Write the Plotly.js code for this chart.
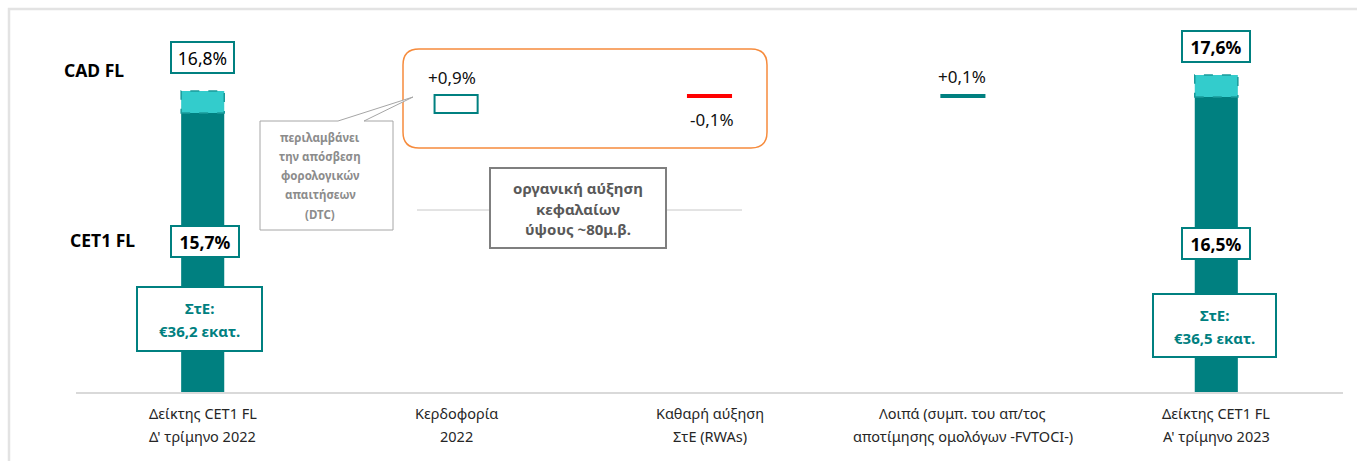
<!DOCTYPE html>
<html>
<head>
<meta charset="utf-8">
<script src="https://cdn.plot.ly/plotly-3.0.1.min.js"></script>
<style>html,body{margin:0;padding:0;background:#fff;}#chart{width:1357px;height:461px;}</style>
</head>
<body>
<div id="chart"></div>
<script>
// ---- data ----
const catLine1 = ["Δείκτης CET1 FL", "Κερδοφορία", "Καθαρή αύξηση", "Λοιπά (συμπ. του απ/τος", "Δείκτης CET1 FL"];
const catLine2 = ["Δ' τρίμηνο 2022", "2022", "ΣτΕ (RWAs)", "αποτίμησης ομολόγων -FVTOCI-)", "Α' τρίμηνο 2023"];
const cet1 = [15.7, null, null, null, 16.5];
const cad = [16.8, null, null, null, 17.6];
const changes = [null, 0.9, -0.1, 0.1, null];
const cet1Labels = ["15,7%", null, null, null, "16,5%"];
const cadLabels = ["16,8%", null, null, null, "17,6%"];
const changeLabels = [null, "+0,9%", "-0,1%", "+0,1%", null];
const rwaLine1 = ["ΣτΕ:", null, null, null, "ΣτΕ:"];
const rwaLine2 = ["€36,2 εκατ.", null, null, null, "€36,5 εκατ."];
const calloutText = ["περιλαμβάνει", "την απόσβεση", "φορολογικών", "απαιτήσεων", "(DTC)"];
const organicText = ["οργανική αύξηση", "κεφαλαίων", "ύψους ~80μ.β."];
const rowLabels = ["CAD FL", "CET1 FL"];

// ---- layout helpers ----
const W = 1357, H = 461;
const M = {l: 76, r: 14, t: 20, b: 69};
const PW = W - M.l - M.r, PH = H - M.t - M.b;
const px = x => (x - M.l) / PW;
const py = y => (H - M.b - y) / PH;
const pt = (x, y) => px(x) + ',' + py(y);

const TEAL = '#008080', LTEAL = '#33cccc', FONT = 'Noto Sans, Open Sans, sans-serif';
const BW = 0.17;
const idx = [0, 1, 2, 3, 4];

// waterfall bases
const base = [];
let run = cet1[0];
changes.forEach((c, i) => {
  if (c === null) { base.push(null); return; }
  base.push(run); run += c;
});

const traces = [];
traces.push({type: 'bar', x: idx, y: cet1, width: BW, marker: {color: TEAL, line: {width: 0}}, hoverinfo: 'skip'});
traces.push({type: 'bar', x: idx, y: cad.map((v, i) => v === null ? null : v - cet1[i]),
  base: cet1, width: BW, marker: {color: LTEAL, line: {width: 0}}, hoverinfo: 'skip'});
const stepFill = ['#fff', '#ffffff', '#ff0000', '#8fd0d0', '#fff'];
const stepLine = ['#fff', TEAL, '#ff0000', TEAL, '#fff'];
traces.push({type: 'bar', x: idx, y: changes, base: base, width: BW,
  marker: {color: stepFill, line: {color: stepLine, width: 2}}, hoverinfo: 'skip'});

const shapes = [];
shapes.push({type: 'rect', xref: 'paper', yref: 'paper', x0: px(9), x1: px(1375), y0: py(9), y1: py(480),
  line: {color: '#e3e3e3', width: 2.5}, fillcolor: 'rgba(0,0,0,0)', layer: 'below'});
idx.forEach(i => {
  if (cad[i] === null) return;
  shapes.push({type: 'rect', xref: 'x', yref: 'y', x0: i - BW / 2, x1: i + BW / 2, y0: cet1[i], y1: cad[i],
    line: {color: '#1a9a9a', width: 1.5, dash: 'dash'}, fillcolor: 'rgba(0,0,0,0)'});
});
(function () {
  const x0 = 403, x1 = 767, y0 = 49, y1 = 148, r = 16;
  const path = 'M' + pt(x0 + r, y0) + ' L' + pt(x1 - r, y0) + ' Q' + pt(x1, y0) + ' ' + pt(x1, y0 + r) +
    ' L' + pt(x1, y1 - r) + ' Q' + pt(x1, y1) + ' ' + pt(x1 - r, y1) +
    ' L' + pt(x0 + r, y1) + ' Q' + pt(x0, y1) + ' ' + pt(x0, y1 - r) +
    ' L' + pt(x0, y0 + r) + ' Q' + pt(x0, y0) + ' ' + pt(x0 + r, y0) + ' Z';
  shapes.push({type: 'path', xref: 'paper', yref: 'paper', path: path, line: {color: '#f68b3c', width: 1.5}});
})();
shapes.push({type: 'path', xref: 'paper', yref: 'paper',
  path: 'M' + pt(260, 121) + ' L' + pt(338, 121) + ' L' + pt(413, 97) + ' L' + pt(364, 121) + ' L' + pt(393, 121) +
    ' L' + pt(393, 230) + ' L' + pt(260, 230) + ' Z',
  line: {color: '#a6a6a6', width: 1}, fillcolor: '#ffffff'});
shapes.push({type: 'line', xref: 'paper', yref: 'paper', x0: px(417), x1: px(489), y0: py(210), y1: py(210), line: {color: '#c8c8c8', width: 1}});
shapes.push({type: 'line', xref: 'paper', yref: 'paper', x0: px(667), x1: px(742), y0: py(210), y1: py(210), line: {color: '#c8c8c8', width: 1}});

const ann = [];
function box(text, cx, cy, w, h, size, bold, color, bcolor) {
  ann.push({xref: 'paper', yref: 'paper', x: px(cx), y: py(cy), xanchor: 'center', yanchor: 'middle',
    text: bold ? '<b>' + text + '</b>' : text, showarrow: false, font: {family: FONT, size: size, color: color},
    bgcolor: '#ffffff', bordercolor: bcolor, borderwidth: 2, borderpad: 0, width: w - 4, height: h - 4, align: 'center'});
}
function txt(text, x, y, size, color, anchor, bold) {
  ann.push({xref: 'paper', yref: 'paper', x: px(x), y: py(y), xanchor: anchor || 'center', yanchor: 'middle',
    text: bold ? '<b>' + text + '</b>' : text, showarrow: false, font: {family: FONT, size: size, color: color}});
}
const cadPos = [[202, 57.5, 65], null, null, null, [1216, 46.5, 70]];
const cetPos = [[205, 241.5, 70], null, null, null, [1216, 243.5, 70]];
const rwaPos = [[199.5, 319, 127, 66], null, null, null, [1214.5, 325.5, 125, 65]];
idx.forEach(i => {
  if (cadLabels[i]) box(cadLabels[i], cadPos[i][0], cadPos[i][1], cadPos[i][2], 33, 17.5, i !== 0, '#000', TEAL);
  if (cet1Labels[i]) box(cet1Labels[i], cetPos[i][0], cetPos[i][1], cetPos[i][2], 33, 17.5, true, '#000', TEAL);
  if (rwaLine1[i]) {
    const p = rwaPos[i];
    box('', p[0], p[1], p[2], p[3], 15, false, TEAL, TEAL);
    txt(rwaLine1[i], p[0], p[1] - 11, 15, TEAL, 'center', true);
    txt(rwaLine2[i], p[0], p[1] + 12, 15, TEAL, 'center', true);
  }
});
const chgPos = [null, [452, 77], [712, 119], [962, 76], null];
idx.forEach(i => { if (changeLabels[i]) txt(changeLabels[i], chgPos[i][0], chgPos[i][1], 17, '#111'); });
txt(rowLabels[0], 62, 70, 17.5, '#000', 'left', true);
txt(rowLabels[1], 68, 240, 17.5, '#000', 'left', true);
calloutText.forEach((t, k) => txt(t, 320, 137 + k * 19.3, 11.5, '#8c8c8c', 'center', true));
box('', 578, 208, 178, 82, 15, false, '#595959', '#7f7f7f');
organicText.forEach((t, k) => txt(t, 578, 188 + k * 20.5, 15, '#595959', 'center', true));
idx.forEach(i => {
  const cx = M.l + (i + 0.5) * PW / 5;
  txt(catLine1[i], cx, 413, 14.5, '#262626');
  txt(catLine2[i], cx, 436, 14.5, '#262626');
});

const layout = {
  width: W, height: H, margin: M, paper_bgcolor: '#fff', plot_bgcolor: '#fff',
  showlegend: false, barmode: 'overlay', font: {family: FONT},
  xaxis: {range: [-0.5, 4.5], showgrid: false, zeroline: false, showticklabels: false, ticks: '',
    showline: true, linecolor: '#d9d9d9', linewidth: 2, fixedrange: true},
  yaxis: {range: [1.75, 20.35], visible: false, fixedrange: true},
  shapes: shapes, annotations: ann
};
Plotly.newPlot('chart', traces, layout, {displayModeBar: false, staticPlot: true});
</script>
</body>
</html>
